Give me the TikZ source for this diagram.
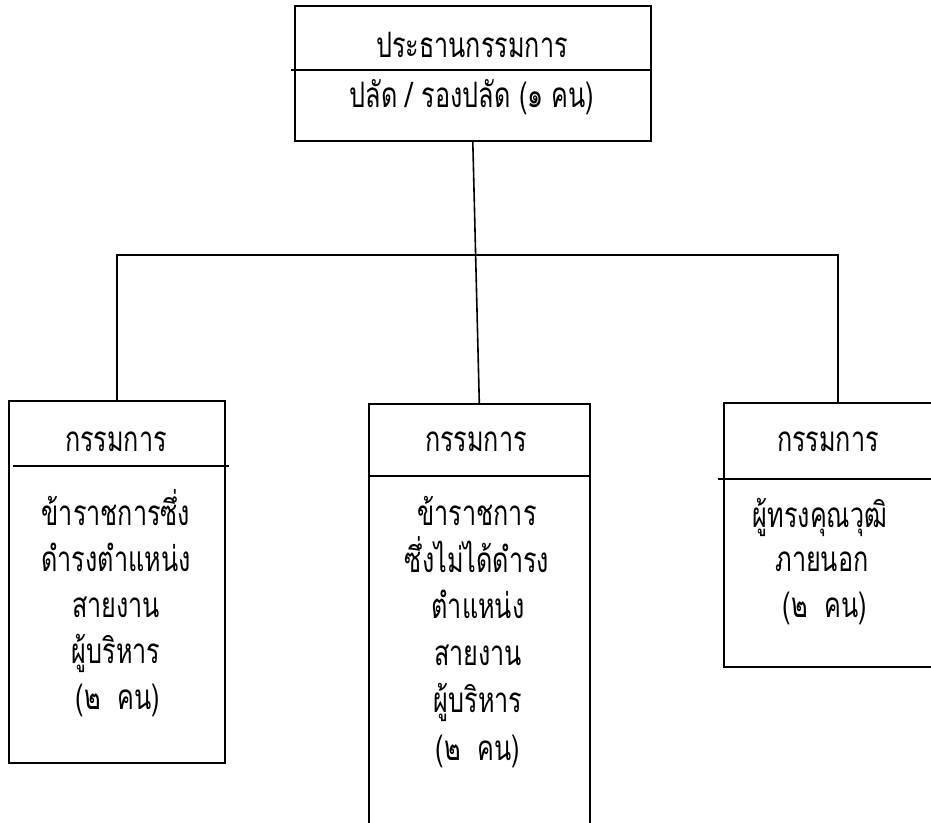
\documentclass[tikz,border=0pt]{standalone}
\usepackage{fontspec}
\newfontfamily\thai[Script=Thai,FakeStretch=0.72]{Loma}

\tikzset{board/.style={draw,line width=1.6pt,inner sep=0pt,anchor=north west}}
\tikzset{rule/.style={line width=1.6pt}}
\tikzset{link/.style={line width=1.6pt}}
\tikzset{label/.style={font=\thai\fontsize{35}{40}\selectfont,inner sep=0pt,anchor=base}}

\begin{document}
\begin{tikzpicture}[x=1pt,y=-1pt]
        \clip (0,0) rectangle (931,822);
        \fill[white] (0,0) rectangle (931,822);
        % draw the boxes
        \node[board,minimum width=356pt,minimum height=135pt] (chair) at (294,5) {};
        \node[board,minimum width=216pt,minimum height=362pt] (m1) at (8,400) {};
        \node[board,minimum width=221pt,minimum height=480pt] (m2) at (368,403) {};
        \node[board,minimum width=228pt,minimum height=264pt] (m3) at (723,402) {};
        % draw the dividers
        \draw[rule] (291,70) -- (650,70);
        \draw[rule] (13,466) -- (229,466);
        \draw[rule] (368,476) -- (589,476);
        \draw[rule] (718,479) -- (951,479);
        % draw the connectors
        \coordinate (bus) at (0,255);
        \draw[link] (chair.south) -- (m2.north);
        \draw[link] (m1.north) -- (m1.north |- bus) -- (m3.north |- bus) -- (m3.north);
        % chairman
        \node[label] (t0) at (472,57) {ประธานกรรมการ};
        \node[label] (t1) at (472,107) {ปลัด / รองปลัด (๑ คน)};
        % left member
        \node[label] (a0) at (116,451) {กรรมการ};
        \node[label] (a1) at (116,525) {ข้าราชการซึ่ง};
        \node[label] (a2) at (116,571) {ดำรงตำแหน่ง};
        \node[label] (a3) at (116,617) {สายงาน};
        \node[label] (a4) at (116,663) {ผู้บริหาร};
        \node[label] (a5) at (118,709) {(๒~~คน)};
        % middle member
        \node[label] (b0) at (476,451) {กรรมการ};
        \node[label] (b1) at (477,525) {ข้าราชการ};
        \node[label] (b2) at (477,572) {ซึ่งไม่ได้ดำรง};
        \node[label] (b3) at (478,618) {ตำแหน่ง};
        \node[label] (b4) at (478,665) {สายงาน};
        \node[label] (b5) at (478,712) {ผู้บริหาร};
        \node[label] (b6) at (478,760) {(๒~~คน)};
        % right member
        \node[label] (c0) at (828,451) {กรรมการ};
        \node[label] (c1) at (820,527) {ผู้ทรงคุณวุฒิ};
        \node[label] (c2) at (822,571) {ภายนอก};
        \node[label] (c3) at (825,617) {(๒~~คน)};
\end{tikzpicture}
\end{document}
